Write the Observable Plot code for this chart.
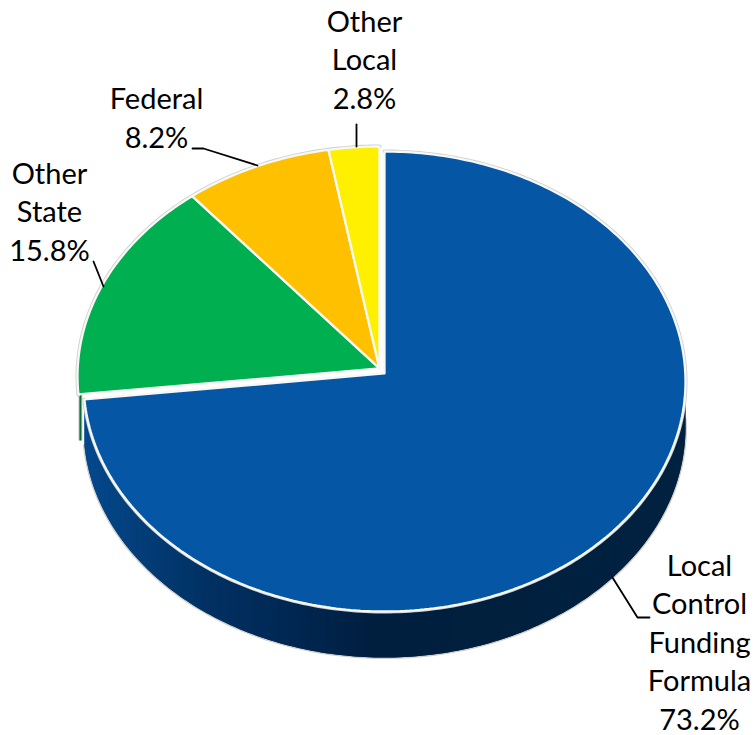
<!DOCTYPE html>
<html>
<head>
<meta charset="utf-8">
<script src="https://cdn.jsdelivr.net/npm/d3@7"></script>
<script src="https://cdn.jsdelivr.net/npm/@observablehq/plot@0.6"></script>
<style>html,body{margin:0;padding:0;background:#fff;overflow:hidden}svg{display:block}</style>
</head>
<body>
<div id="chart"></div>
<script>
// Data, clockwise from 12 o'clock
const categories = ["Local Control Funding Formula", "Other State", "Federal", "Other Local"];
const shares = [73.2, 15.8, 8.2, 2.8];
const sliceColors = ["#0557a5", "#00b050", "#ffc000", "#fff000"];
const labelLines = [["Local", "Control", "Funding", "Formula"], ["Other", "State"], ["Federal"], ["Other", "Local"]];
const labelX = [699, 49, 156, 364];
const labelY = [729, 260, 147, 108];
const leaders = [
  [[612, 577], [637, 617], [649, 617]],
  [[93, 261], [103, 286]],
  [[192, 148], [203, 148], [257, 165]],
  [[356, 124], [356, 146]]
];

// Oblique view of the disc
const frontDisc = {cx: 384, cy: 381, rx: 301, ry: 230};
const backDisc = {cx: 379, cy: 376, rx: 302, ry: 230};
const wallDepth = 46;
const tilt = 0.035; // perspective: apex sits above the ellipse centre
const wallStops = {x: [85, 200, 300, 370, 690], c: ["#04488c", "#013264", "#002650", "#001f3e", "#00213f"]};

function project(d, pct, depth = 0) {
  const t = pct / 100 * 2 * Math.PI;
  const u = Math.sin(t), v = Math.cos(t);
  const w = 1 + tilt * v;
  return {
    x: d.cx + d.rx * u * Math.sqrt(1 - tilt * tilt) / w,
    y: d.cy - d.ry * (v + tilt) / w + depth
  };
}
function arc(d, a, b, depth = 0) {
  const n = Math.max(2, Math.ceil(Math.abs(b - a) * 4));
  return d3.range(n + 1).map(i => project(d, a + (b - a) * i / n, depth));
}

// Slices
const cum = d3.cumsum(shares);
const slices = categories.map((name, i) => {
  const a = i ? cum[i - 1] : 0, b = cum[i];
  const d = i === 0 ? frontDisc : backDisc;
  return {name, i, a, b, d, rim: arc(d, a, b)};
});
const apexOf = d => ({x: d.cx, y: d.cy - d.ry * tilt});
const outline = slices.flatMap(s => [apexOf(s.d), ...s.rim, apexOf(s.d)].map(p => ({...p, name: s.name, color: sliceColors[s.i]})));
const rims = slices.flatMap(s => s.rim.map(p => ({...p, name: s.name})));

// Blue side wall: overlapping strips shaded along x
const wallFrom = 25, wallTo = shares[0];
const stripEdges = d3.range(wallFrom, wallTo, 0.5).concat([wallTo]);
const strips = d3.pairs(stripEdges).flatMap(([a, b], k) => {
  const end = Math.min(wallTo, b + 0.5);
  const top = arc(frontDisc, a, end), bot = arc(frontDisc, a, end, wallDepth).reverse();
  const mid = project(frontDisc, (a + b) / 2).x;
  return [...top, ...bot].map(p => ({...p, k, mid}));
});
const wallOuter = arc(frontDisc, wallFrom, wallTo, wallDepth);

// Green sliver showing at the far left
const sliver = [project(backDisc, shares[0]), project(backDisc, shares[0], wallDepth)].map(p => ({x: p.x + 2, y: p.y}));

const leaderRows = leaders.flatMap((l, i) => l.map(([x, y]) => ({x, y, i})));
const labelRows = categories.map((c, i) => ({
  text: [...labelLines[i], shares[i].toFixed(1) + "%"].join("\n"),
  x: labelX[i], y: labelY[i]
}));

const plot = Plot.plot({
  width: 754, height: 735,
  margin: 0,
  style: {background: "#fff", fontFamily: "Lato, sans-serif"},
  x: {domain: [0, 754], range: [0, 754], axis: null},
  y: {domain: [0, 735], range: [0, 735], axis: null},
  color: {type: "linear", domain: wallStops.x, range: wallStops.c, interpolate: "rgb"},
  marks: [
    // sliver
    Plot.line(sliver, {x: "x", y: "y", stroke: "#c9cfc9", strokeWidth: 4, strokeLinecap: "butt"}),
    Plot.line(sliver, {x: "x", y: "y", stroke: "#0a6b36", strokeWidth: 2, strokeLinecap: "butt"}),
    // wall rim and wall
    Plot.line(wallOuter, {x: "x", y: "y", stroke: "#cfcfcf", strokeWidth: 3}),
    Plot.line(strips, {x: "x", y: "y", z: "k", fill: "mid", stroke: "none"}),
    // outer grey edge of the top faces
    Plot.line(rims, {x: "x", y: "y", z: "name", stroke: "#cfcfcf", strokeWidth: 4}),
    // white borders and faces
    Plot.line(outline, {x: "x", y: "y", z: "name", fill: d => d.color, stroke: "#f6f8f6", strokeWidth: 2.3, strokeLinejoin: "miter"}),
    // leaders
    Plot.line(leaderRows, {x: "x", y: "y", z: "i", stroke: "#000", strokeWidth: 1.8}),
    // labels
    Plot.text(labelRows, {
      x: "x", y: "y", text: "text",
      fontSize: 29, lineHeight: 38.5 / 29,
      textAnchor: "middle", lineAnchor: "bottom", fill: "#000"
    })
  ]
});
document.getElementById("chart").appendChild(plot);
</script>
</body>
</html>
